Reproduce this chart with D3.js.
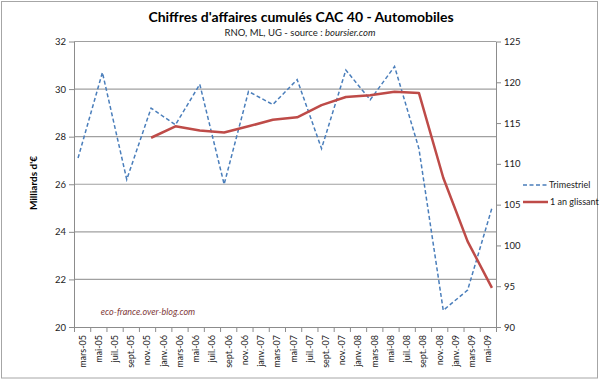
<!DOCTYPE html>
<html>
<head>
<meta charset="utf-8">
<script src="https://cdn.jsdelivr.net/npm/d3@7"></script>
<style>
  body { margin: 0; background: #fff; }
  text { font-family: Lato, "Open Sans", sans-serif; }
</style>
</head>
<body>
<div id="chart"></div>
<script>
// quarterly data points (year-month)
const quarters = ["2005-03","2005-06","2005-09","2005-12","2006-03","2006-06","2006-09","2006-12",
                  "2007-03","2007-06","2007-09","2007-12","2008-03","2008-06","2008-09","2008-12",
                  "2009-03","2009-06"];
// Trimestriel (left axis, milliards d'€)
const trimestriel = [27.1, 30.7, 26.2, 29.2, 28.5, 30.2, 26.0, 29.9,
                     29.35, 30.4, 27.5, 30.8, 29.55, 30.95, 27.5, 20.7,
                     21.55, 25.0];
// 1 an glissant (right axis)
const glissant = [null, null, null, 113.2, 114.6, 114.1, 113.85, 114.6,
                  115.4, 115.7, 117.2, 118.2, 118.4, 118.85, 118.7, 108.3,
                  100.5, 94.8];
// x tick labels, one every 2 months
const monthLabels = ["mars-05","mai-05","juil.-05","sept.-05","nov.-05","janv.-06",
                     "mars-06","mai-06","juil.-06","sept.-06","nov.-06","janv.-07",
                     "mars-07","mai-07","juil.-07","sept.-07","nov.-07","janv.-08",
                     "mars-08","mai-08","juil.-08","sept.-08","nov.-08","janv.-09",
                     "mars-09","mai-09"];
const leftTicks = [20, 22, 24, 26, 28, 30, 32];
const rightTicks = [90, 95, 100, 105, 110, 115, 120, 125];

const width = 600, height = 381;
const plot = { left: 74, right: 496, top: 41.5, bottom: 327 };

const svg = d3.select("#chart").append("svg")
  .attr("width", width)
  .attr("height", height);

// chart frame
svg.append("rect")
  .attr("x", 1.5).attr("y", 1.5)
  .attr("width", 596).attr("height", 376.5)
  .attr("fill", "#fff")
  .attr("stroke", "#a6a6a6");

// month index since mars-05
const monthIndex = (s) => {
  const [y, m] = s.split("-").map(Number);
  return (y - 2005) * 12 + (m - 3);
};

const x = d3.scaleLinear().domain([0, 52]).range([plot.left, plot.right]);
const yL = d3.scaleLinear().domain([20, 32]).range([plot.bottom, plot.top]);
const yR = d3.scaleLinear().domain([90, 125]).range([plot.bottom, plot.top]);

// gridlines
svg.append("g")
  .selectAll("line")
  .data(leftTicks.slice(1))
  .enter().append("line")
    .attr("x1", plot.left).attr("x2", plot.right)
    .attr("y1", d => yL(d)).attr("y2", d => yL(d))
    .attr("stroke", "#a0a0a0")
    .attr("stroke-width", 1.2);

// left axis
svg.append("g")
  .attr("transform", `translate(${plot.left},0)`)
  .call(d3.axisLeft(yL).tickValues(leftTicks).tickSize(5).tickSizeOuter(0).tickPadding(3))
  .call(g => g.select(".domain").attr("stroke", "#8c8c8c"))
  .call(g => g.selectAll(".tick line").attr("stroke", "#8c8c8c"))
  .call(g => g.selectAll("text").attr("font-size", "9.5px").attr("fill", "#222").attr("font-family", "Lato"));

// right axis
svg.append("g")
  .attr("transform", `translate(${plot.right},0)`)
  .call(d3.axisRight(yR).tickValues(rightTicks).tickSize(5).tickSizeOuter(0).tickPadding(3))
  .call(g => g.select(".domain").attr("stroke", "#8c8c8c"))
  .call(g => g.selectAll(".tick line").attr("stroke", "#8c8c8c"))
  .call(g => g.selectAll("text").attr("font-size", "9.5px").attr("fill", "#222").attr("font-family", "Lato"));

// x axis: tick marks every 2 months
svg.append("g")
  .attr("transform", `translate(0,${plot.bottom})`)
  .call(d3.axisBottom(x).tickValues(d3.range(0, 53, 2)).tickFormat("").tickSize(5).tickSizeOuter(0))
  .call(g => g.select(".domain").attr("stroke", "#8c8c8c"))
  .call(g => g.selectAll(".tick line").attr("stroke", "#8c8c8c"));

// x labels, centred between ticks
svg.append("g")
  .attr("transform", `translate(0,${plot.bottom})`)
  .call(d3.axisBottom(x).tickValues(d3.range(1, 52, 2)).tickFormat((d, i) => monthLabels[i]).tickSize(0))
  .call(g => g.select(".domain").remove())
  .call(g => g.selectAll("text")
    .attr("font-size", "9px")
    .attr("fill", "#222")
    .attr("font-family", "Lato")
    .attr("text-anchor", "end")
    .attr("dy", "0.32em")
    .attr("transform", "translate(0,8) rotate(-90)")
    .attr("y", 0).attr("x", 0));

// lines
const ptX = (q) => x(monthIndex(q) + 0.5);

const lineTri = d3.line()
  .x((d, i) => ptX(quarters[i]))
  .y(d => yL(d));

svg.append("path")
  .datum(trimestriel)
  .attr("d", lineTri)
  .attr("fill", "none")
  .attr("stroke", "#4a7ebb")
  .attr("stroke-width", 1.5)
  .attr("stroke-dasharray", "4,2.5");

const lineGl = d3.line()
  .defined(d => d !== null)
  .x((d, i) => ptX(quarters[i]))
  .y(d => yR(d));

svg.append("path")
  .datum(glissant)
  .attr("d", lineGl)
  .attr("fill", "none")
  .attr("stroke", "#be4b48")
  .attr("stroke-width", 2.5)
  .attr("stroke-linejoin", "round");

// title
svg.append("text")
  .attr("x", 301).attr("y", 22)
  .attr("text-anchor", "middle")
  .attr("font-size", "14px")
  .attr("font-weight", "bold")
  .attr("fill", "#000")
  .text("Chiffres d'affaires cumulés CAC 40 - Automobiles");

const sub = svg.append("text")
  .attr("x", 300).attr("y", 35.5)
  .attr("text-anchor", "middle")
  .attr("font-size", "9.5px")
  .attr("fill", "#222");
sub.append("tspan").text("RNO, ML, UG - source : ");
sub.append("tspan").attr("font-style", "italic").text("boursier.com");

// y axis title
svg.append("text")
  .attr("transform", "translate(37,183) rotate(-90)")
  .attr("text-anchor", "middle")
  .attr("font-size", "10px")
  .attr("font-weight", "bold")
  .attr("fill", "#000")
  .text("Milliards d'€");

// watermark
svg.append("text")
  .attr("x", 148).attr("y", 315)
  .attr("text-anchor", "middle")
  .attr("font-size", "9px")
  .attr("font-style", "italic")
  .attr("fill", "#7f3a3a")
  .text("eco-france.over-blog.com");

// legend
const legend = svg.append("g").attr("transform", "translate(523,0)");
legend.append("line")
  .attr("x1", 0).attr("x2", 25).attr("y1", 185).attr("y2", 185)
  .attr("stroke", "#4a7ebb").attr("stroke-width", 1.5).attr("stroke-dasharray", "4,2.5");
legend.append("text")
  .attr("x", 26).attr("y", 185).attr("dy", "0.35em")
  .attr("font-size", "9px").attr("fill", "#222")
  .text("Trimestriel");
legend.append("line")
  .attr("x1", 0).attr("x2", 25).attr("y1", 202).attr("y2", 202)
  .attr("stroke", "#be4b48").attr("stroke-width", 2.5);
legend.append("text")
  .attr("x", 27).attr("y", 202).attr("dy", "0.35em")
  .attr("font-size", "9px").attr("fill", "#222")
  .text("1 an glissant");
</script>
</body>
</html>
